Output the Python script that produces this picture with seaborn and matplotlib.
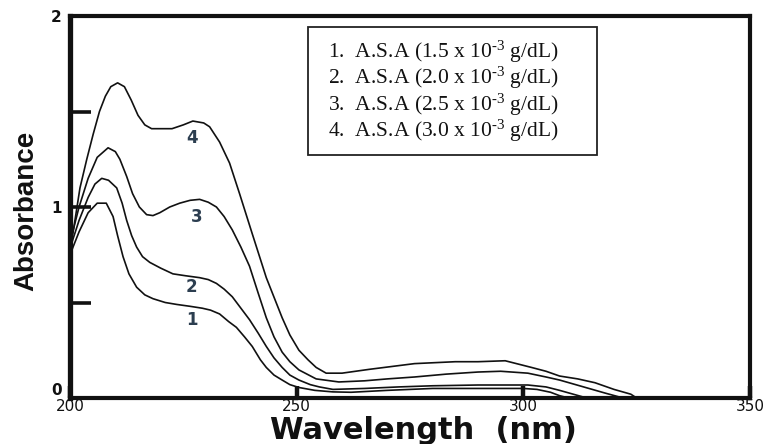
import matplotlib
matplotlib.use("Agg")
import numpy as np
import pandas as pd
import matplotlib.pyplot as plt
from matplotlib import font_manager
from matplotlib.patches import Rectangle
import seaborn as sns

# ---------------- data ----------------
wl_1 = [200.5, 202, 204, 206, 208, 209.5, 210.5, 211.7, 213, 214.7, 216.5, 218.3,
        221, 223.5, 226.5, 229.2, 231, 233, 235, 236.7, 238.5, 240.2, 242, 243.3,
        245, 246.8, 248.5, 250.5, 254, 258, 262, 270, 280, 290, 300, 303, 306, 308, 310]
abs_1 = [0.78, 0.87, 0.97, 1.02, 1.02, 0.95, 0.85, 0.74, 0.65, 0.58, 0.54, 0.52,
         0.50, 0.49, 0.48, 0.47, 0.46, 0.44, 0.40, 0.37, 0.32, 0.27, 0.20, 0.16,
         0.12, 0.094, 0.07, 0.055, 0.04, 0.032, 0.03, 0.04, 0.05, 0.05, 0.05, 0.045, 0.03, 0.012, 0.0]

wl_2 = [200.5, 202, 204, 205.5, 207, 208.5, 210.3, 211.5, 212.5, 213.6, 214.7, 216,
        217.6, 220, 222.7, 225.5, 228.6, 230.5, 232.3, 234, 235.8, 237.7, 239.6, 241.5,
        243.3, 245, 246.8, 248.5, 250.5, 253, 255, 258, 265, 272.5, 280, 290, 301, 305,
        308, 311, 314]
abs_2 = [0.82, 0.93, 1.05, 1.12, 1.15, 1.14, 1.10, 1.02, 0.93, 0.85, 0.79, 0.74,
         0.71, 0.68, 0.65, 0.64, 0.63, 0.62, 0.60, 0.57, 0.53, 0.47, 0.41, 0.34,
         0.27, 0.21, 0.16, 0.12, 0.094, 0.07, 0.058, 0.045, 0.05, 0.058, 0.064, 0.068, 0.068, 0.058,
         0.04, 0.02, 0.0]

wl_3 = [200.5, 202, 204, 206, 208.4, 210, 211, 212.5, 213.8, 215.3, 216.9, 218.3,
        219.8, 222, 224.2, 226.5, 228.6, 230.5, 232.3, 234, 235.8, 237.7, 239.6, 241.5,
        243.3, 245, 246.8, 248.5, 250.5, 254.3, 259.3, 265, 270, 276, 283, 290, 295,
        301, 305, 308, 313, 318, 322]
abs_3 = [0.86, 1.00, 1.15, 1.26, 1.31, 1.29, 1.25, 1.16, 1.07, 1.00, 0.96, 0.955,
         0.97, 1.00, 1.02, 1.035, 1.04, 1.025, 1.00, 0.95, 0.88, 0.79, 0.69, 0.55,
         0.42, 0.32, 0.24, 0.19, 0.147, 0.10, 0.084, 0.09, 0.10, 0.11, 0.125, 0.136, 0.14,
         0.13, 0.11, 0.094, 0.06, 0.026, 0.0]

wl_4 = [200.5, 202.2, 203.7, 205.1, 206.5, 207.8, 209, 210.5, 212, 213.5, 215, 216.5,
        218, 220.5, 222.5, 225, 227.1, 229.5, 230.8, 233, 235.2, 237.4, 240.2, 243.3,
        246.8, 248.5, 250.5, 252.5, 254.3, 256.5, 260, 266, 276, 285, 290, 296,
        301.8, 305, 308, 312, 315.8, 320, 323.7, 325]
abs_4 = [0.84, 1.10, 1.25, 1.38, 1.50, 1.58, 1.63, 1.65, 1.63, 1.56, 1.48, 1.43,
         1.41, 1.41, 1.41, 1.43, 1.45, 1.44, 1.42, 1.34, 1.23, 1.07, 0.86, 0.63,
         0.42, 0.33, 0.25, 0.20, 0.16, 0.13, 0.13, 0.15, 0.18, 0.19, 0.19, 0.195,
         0.16, 0.14, 0.115, 0.10, 0.08, 0.045, 0.02, 0.0]

curve_names = ["1", "2", "3", "4"]
legend_labels = [
    r"1.  A.S.A (1.5 x $10^{\text{-3}}$ g/dL)",
    r"2.  A.S.A (2.0 x $10^{\text{-3}}$ g/dL)",
    r"3.  A.S.A (2.5 x $10^{\text{-3}}$ g/dL)",
    r"4.  A.S.A (3.0 x $10^{\text{-3}}$ g/dL)",
]
# curve number annotations (x, y) in data units
label_x = [226.8, 226.8, 227.9, 227.0]
label_y = [0.41, 0.58, 0.95, 1.36]

x_ticks = [200, 250, 300, 350]
y_ticks = [0, 0.5, 1, 1.5, 2]
y_tick_labels = ["0", "", "1", "", "2"]

# ---------------- build table ----------------
frames = []
for name, wl, ab in zip(curve_names, [wl_1, wl_2, wl_3, wl_4], [abs_1, abs_2, abs_3, abs_4]):
    frames.append(pd.DataFrame({"wavelength": wl, "absorbance": ab, "curve": name}))
df = pd.concat(frames, ignore_index=True)

# ---------------- style ----------------
sns.set_theme(style="white")
plt.rcParams["font.family"] = ["DejaVu Sans"]
plt.rcParams["mathtext.fontset"] = "custom"
plt.rcParams["mathtext.rm"] = "Liberation Serif"
plt.rcParams["mathtext.it"] = "Liberation Serif:italic"
plt.rcParams["mathtext.bf"] = "Liberation Serif:bold"

names = {f.name for f in font_manager.fontManager.ttflist}
ylab_family = "Liberation Sans Narrow" if "Liberation Sans Narrow" in names else "Liberation Sans"

fig = plt.figure(figsize=(7.72, 4.44), dpi=100)
fig.patch.set_facecolor("white")
ax = fig.add_axes([70 / 772, 1 - 398 / 444, 680 / 772, 382 / 444])

sns.lineplot(data=df, x="wavelength", y="absorbance", hue="curve",
             palette=["#111111"] * 4, legend=False, linewidth=1.2,
             estimator=None, sort=False, ax=ax)

ax.set_xlim(200, 350)
ax.set_ylim(0, 2)

for s in ax.spines.values():
    s.set_visible(True)
    s.set_color("#111111")
    s.set_linewidth(3.0)
ax.spines["left"].set_linewidth(3.8)

ax.set_xticks(x_ticks)
ax.set_xticklabels([str(t) for t in x_ticks], fontsize=11, color="#111111")
ax.set_yticks(y_ticks)
ax.set_yticklabels(y_tick_labels, fontsize=11, fontweight="bold", color="#111111")
ax.tick_params(axis="x", direction="in", length=9, width=3.2, color="#111111", pad=1,
               bottom=True, top=False)
ax.tick_params(axis="y", direction="in", length=15, width=2.6, color="#111111", pad=6,
               left=True, right=False)
for lbl in ax.get_yticklabels():
    if lbl.get_text() == "0":
        lbl.set_va("bottom")

ax.set_xlabel("Wavelength  (nm)", fontsize=22, fontweight="bold",
              family="DejaVu Sans", color="#111111")
ax.xaxis.set_label_coords(0.52, -0.048)
ax.set_ylabel("Absorbance", fontsize=20, fontweight="bold",
              family=ylab_family, color="#111111")
ax.yaxis.set_label_coords(-0.045, 0.49)

# curve numbers
for name, lx, ly in zip(curve_names, label_x, label_y):
    ax.text(lx, ly, name, fontsize=12, fontweight="bold", color="#2c3e50",
            ha="center", va="center")

# legend box
ax.add_patch(Rectangle((0.35, 0.636), 0.425, 0.335, transform=ax.transAxes,
                       fill=False, edgecolor="#222222", linewidth=1.3, zorder=5))
legend_y = [0.906, 0.838, 0.767, 0.699]
for txt, ly in zip(legend_labels, legend_y):
    ax.text(0.379, ly, txt, transform=ax.transAxes, fontsize=15.5,
            family="Liberation Serif", color="#111111", ha="left", va="center")

fig.savefig("out.png", dpi=100)
